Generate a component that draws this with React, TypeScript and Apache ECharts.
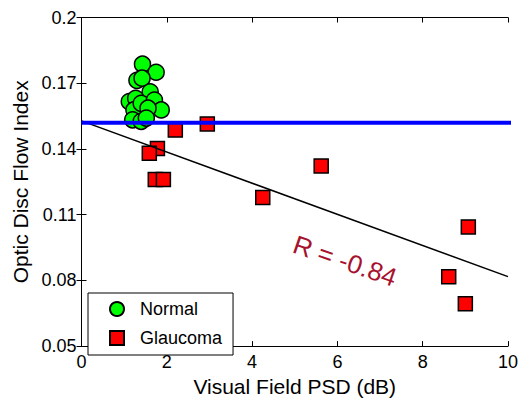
import React, { useEffect, useRef } from "react";
import * as echarts from "echarts";

const normalX = [1.43, 1.75, 1.30, 1.42, 1.61, 1.12, 1.27, 1.23, 1.40, 1.71, 1.87, 1.56, 1.20, 1.40, 1.52];
const normalY = [0.1787, 0.175, 0.1713, 0.1723, 0.1661, 0.1616, 0.1631, 0.1578, 0.1608, 0.1623, 0.1578, 0.1586, 0.1533, 0.1526, 0.1541];

const glaucomaX = [2.95, 5.62, 4.25, 9.07, 8.61, 9.0, 2.2, 1.78, 1.59, 1.73, 1.92];
const glaucomaY = [0.1514, 0.1322, 0.1178, 0.1044, 0.0816, 0.0693, 0.1486, 0.1402, 0.138, 0.126, 0.126];

const fitX = [0, 10];
const fitY = [0.1528, 0.0817];

const thresholdX = [0, 10.4];
const thresholdY = [0.152, 0.152];

const xTicks = { min: 0, max: 10, interval: 2 };
const yTicks = { min: 0.05, max: 0.2, interval: 0.03 };

const rLabel = "R = -0.84";

const FONT = "Arial, 'Liberation Sans', sans-serif";

const zip = (xs: number[], ys: number[]) => xs.map((x, i) => [x, ys[i]]);

export default function App() {
  const ref = useRef<HTMLDivElement>(null);
  useEffect(() => {
    if (!ref.current) return;
    const chart = echarts.init(ref.current, undefined, { renderer: "svg" });
    const axisCommon = {
      axisLine: { show: true, lineStyle: { color: "#000", width: 1 } },
      axisTick: { show: true, inside: true, length: 5, lineStyle: { color: "#000" } },
      splitLine: { show: false },
    };
    chart.setOption({
      animation: false,
      backgroundColor: "#fff",
      grid: { left: 81.5, right: 9.5, top: 17.5, bottom: 49.5, containLabel: false },
      legend: {
        data: ["Normal", "Glaucoma"],
        orient: "vertical",
        left: 88,
        top: 293,
        padding: [7, 11, 8, 21],
        borderColor: "#000",
        borderWidth: 1,
        backgroundColor: "#fff",
        itemWidth: 14,
        itemHeight: 14,
        itemGap: 11,
        textStyle: { fontSize: 18, lineHeight: 14, color: "#000", fontFamily: FONT, padding: [0, 0, 0, 11] },
      },
      xAxis: [
        {
          type: "value",
          ...xTicks,
          position: "bottom",
          ...axisCommon,
          axisLabel: { color: "#000", fontSize: 18, fontFamily: FONT, margin: 7 },
          name: "Visual Field PSD (dB)",
          nameLocation: "middle",
          nameGap: 27,
          nameTextStyle: { color: "#000", fontSize: 21, fontFamily: FONT },
        },
        {
          type: "value",
          ...xTicks,
          position: "top",
          ...axisCommon,
          axisLabel: { show: false },
        },
      ],
      yAxis: [
        {
          type: "value",
          ...yTicks,
          position: "left",
          ...axisCommon,
          axisLabel: { color: "#000", fontSize: 18, fontFamily: FONT, margin: 5 },
          name: "Optic Disc Flow Index",
          nameLocation: "middle",
          nameGap: 50,
          nameTextStyle: { color: "#000", fontSize: 21, fontFamily: FONT },
        },
        {
          type: "value",
          ...yTicks,
          position: "right",
          ...axisCommon,
          axisLabel: { show: false },
        },
      ],
      series: [
        {
          name: "Normal",
          type: "scatter",
          data: zip(normalX, normalY),
          symbol: "circle",
          symbolSize: 16,
          itemStyle: { color: "#00ff00", borderColor: "#000", borderWidth: 1.5, opacity: 1 },
          z: 2,
        },
        {
          name: "Glaucoma",
          type: "scatter",
          data: zip(glaucomaX, glaucomaY),
          symbol: "rect",
          symbolSize: 14,
          itemStyle: { color: "#ff0000", borderColor: "#000", borderWidth: 1.5, opacity: 1 },
          z: 3,
        },
        {
          name: "fit",
          type: "line",
          data: zip(fitX, fitY),
          showSymbol: false,
          symbol: "none",
          lineStyle: { color: "#000", width: 1.5 },
          z: 4,
        },
        {
          name: "threshold",
          type: "line",
          data: zip(thresholdX, thresholdY),
          showSymbol: false,
          symbol: "none",
          clip: false,
          lineStyle: { color: "#0000ff", width: 4 },
          z: 5,
        },
      ],
      graphic: [
        {
          type: "text",
          x: 345,
          y: 261,
          rotation: -0.33,
          z: 10,
          style: {
            text: rLabel,
            fill: "#a6122e",
            fontSize: 26,
            fontFamily: FONT,
            align: "center",
            verticalAlign: "middle",
          },
        },
      ],
    });
    return () => chart.dispose();
  }, []);
  return <div ref={ref} style={{ width: 521, height: 402, position: "absolute", left: 0, top: 0 }} />;
}
